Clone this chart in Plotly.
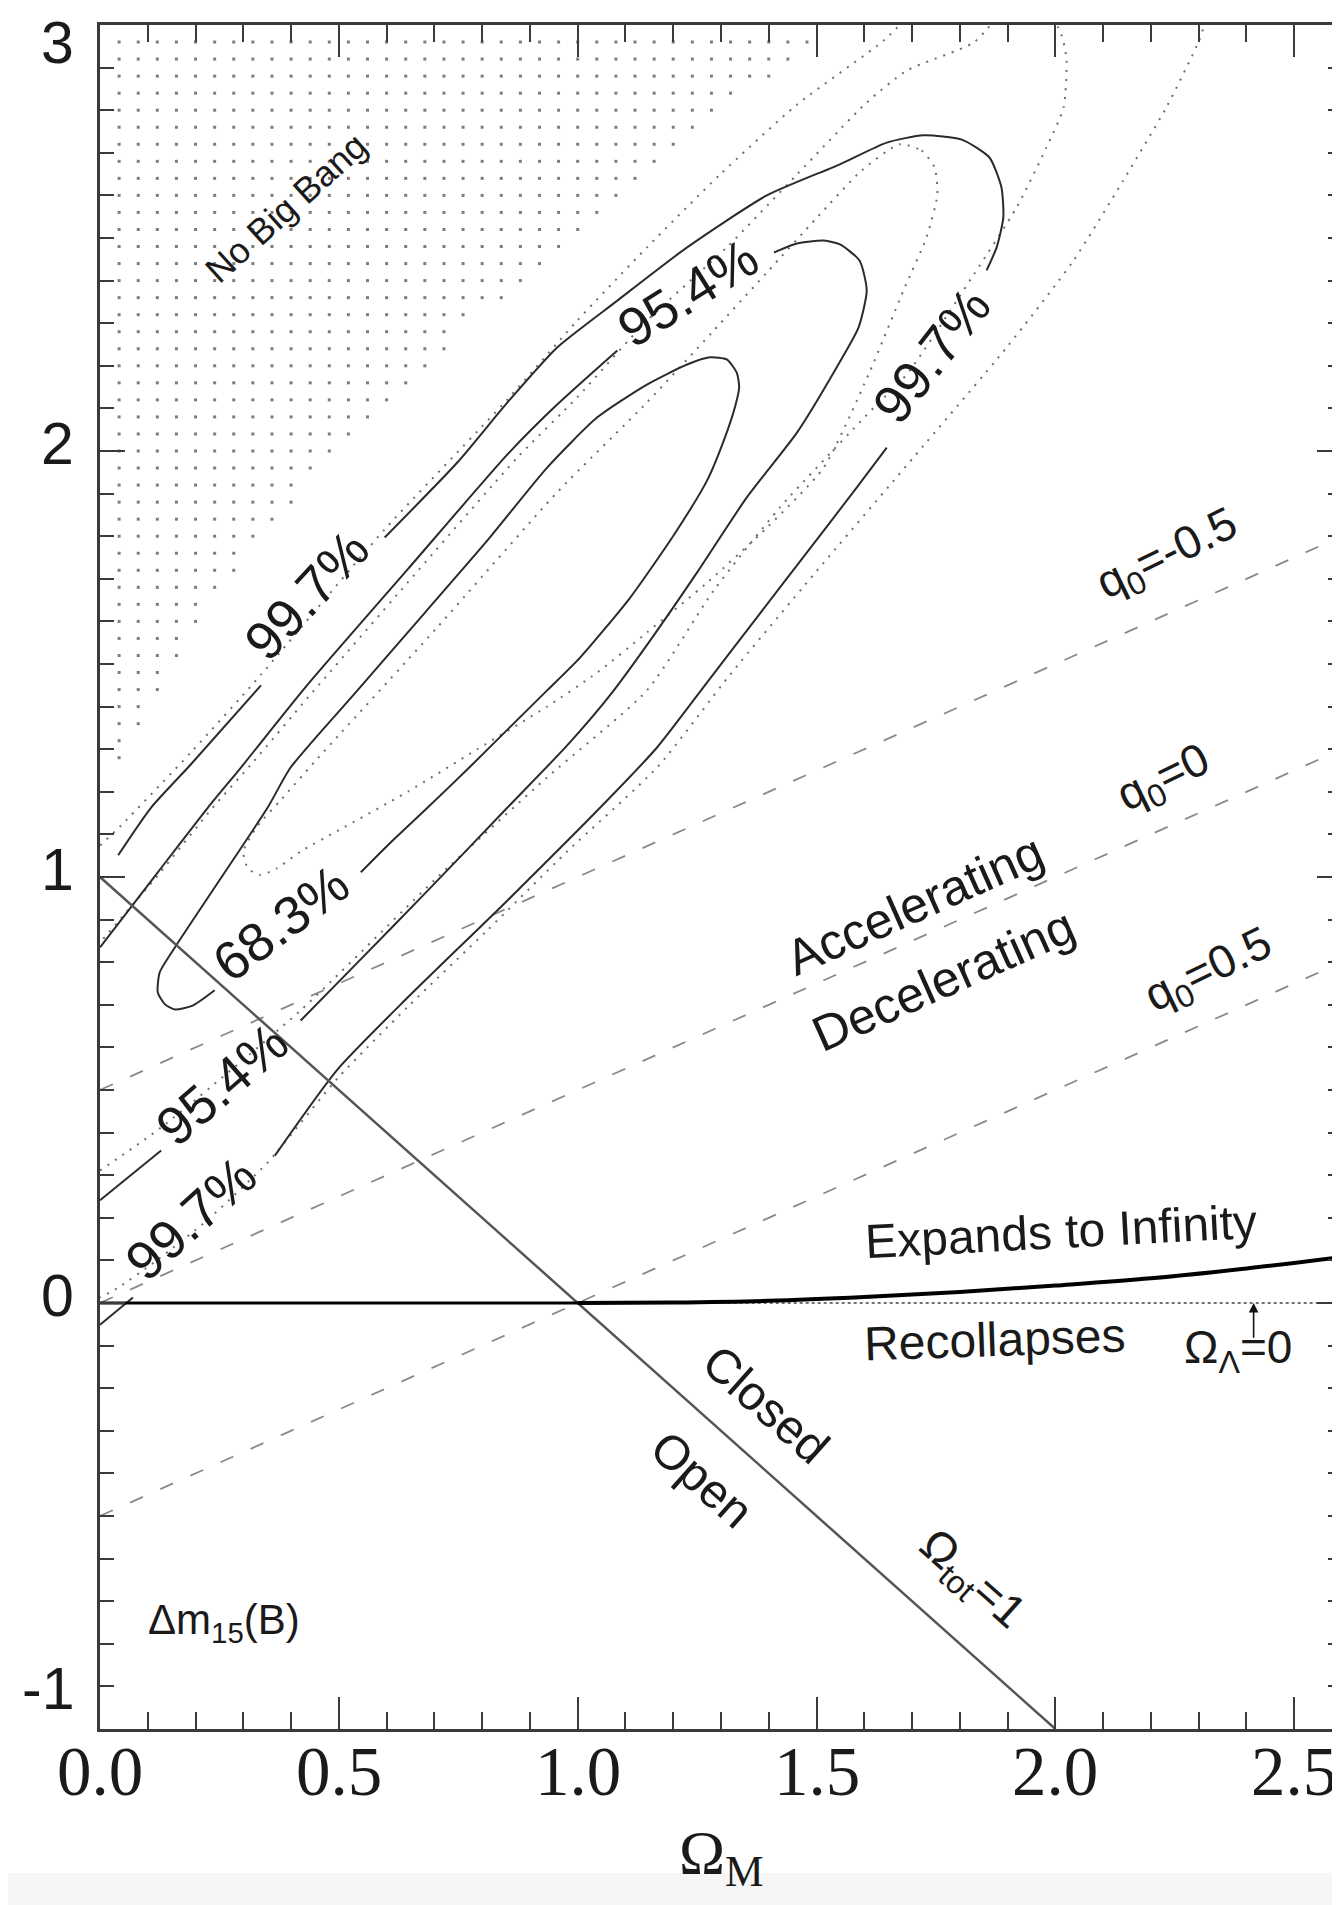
import numpy as np
import plotly.graph_objects as go

# ---------------- axis ticks ----------------
x_tick_vals = [0.0, 0.5, 1.0, 1.5, 2.0, 2.5]
x_tick_text = ["0.0", "0.5", "1.0", "1.5", "2.0", "2.5"]
y_tick_vals = [-1, 0, 1, 2, 3]
y_tick_text = ["-1", "0", "1", "2", "3"]

# ---------------- reference lines ----------------
flat_x = [0.0, 2.0]            # Omega_tot = 1
flat_y = [1.0, -1.0]
q0_x = [0.0, 2.6]
q0_m05_y = [0.5, 1.8]          # q0 = -0.5
q0_0_y = [0.0, 1.3]            # q0 = 0
q0_05_y = [-0.5, 0.8]          # q0 = 0.5
lam0_solid_x = [0.0, 1.0]
lam0_solid_y = [0.0, 0.0]
lam0_dot_x = [1.0, 2.6]
lam0_dot_y = [0.0, 0.0]
expand_x = [1.0, 1.2, 1.4, 1.6, 1.8, 2.0, 2.2, 2.4, 2.6]
expand_y = [0.0, 0.001, 0.005, 0.014, 0.026, 0.041, 0.058, 0.081, 0.108]

# ---------------- "No Big Bang" region boundary ----------------
nbb_x = [0.0, 0.04, 0.08, 0.12, 0.16, 0.20, 0.24, 0.28, 0.32, 0.36, 0.40, 0.44, 0.48,
         0.52, 0.56, 0.60, 0.64, 0.68, 0.72, 0.76, 0.88, 1.00, 1.08, 1.17, 1.29, 1.49, 1.60]
nbb_y = [1.00, 1.25, 1.34, 1.43, 1.51, 1.59, 1.65, 1.71, 1.77, 1.83, 1.87, 1.93, 1.99,
         2.03, 2.07, 2.11, 2.15, 2.19, 2.23, 2.30, 2.39, 2.51, 2.59, 2.67, 2.79, 2.95, 3.05]

# ---------------- solid confidence contours (Delta m15) ----------------
s68_x = [0.240, 0.194, 0.157, 0.136, 0.121, 0.125, 0.157, 0.226, 0.351, 0.399, 0.539, 0.679,
         0.811, 0.936, 1.041, 1.145, 1.229, 1.277, 1.312, 1.333, 1.338, 1.329, 1.306, 1.271,
         1.202, 1.110, 1.005, 0.936, 0.853, 0.773, 0.686, 0.602, 0.546]
s68_y = [0.734, 0.698, 0.689, 0.701, 0.729, 0.776, 0.835, 0.952, 1.163, 1.257, 1.438, 1.619,
         1.790, 1.961, 2.079, 2.156, 2.203, 2.220, 2.215, 2.184, 2.149, 2.102, 2.025, 1.931,
         1.804, 1.656, 1.515, 1.438, 1.346, 1.257, 1.163, 1.074, 1.011]

s95_x = [0.000, 0.128, None, 0.420, 0.539, 0.686, 0.853, 0.978, 1.072, 1.156, 1.250,
         1.354, 1.459, 1.542, 1.588, 1.605, 1.590, 1.549, 1.515, 1.459, 1.411, None,
         1.083, 0.957, 0.853, 0.644, 0.435, 0.295, 0.226, 0.121, 0.000]
s95_y = [0.241, 0.358, None, 0.663, 0.799, 0.968, 1.163, 1.309, 1.433, 1.562, 1.715,
         1.891, 2.043, 2.196, 2.290, 2.377, 2.447, 2.485, 2.494, 2.487, 2.466, None,
         2.236, 2.109, 1.992, 1.722, 1.452, 1.257, 1.163, 1.011, 0.835]

s997_x = [0.038, 0.107, 0.190, 0.337, None, 0.596, 0.748, 0.853, 0.957, 1.083, 1.229, 1.396,
          1.549, 1.647, 1.724, 1.804, 1.862, 1.887, 1.891, 1.877, 1.856, None, 1.647, 1.584,
          1.480, 1.375, 1.271, 1.166, 1.062, 0.853, 0.644, 0.497, 0.366, None, 0.069, 0.000]
s997_y = [1.051, 1.163, 1.264, 1.450, None, 1.797, 1.973, 2.114, 2.243, 2.353, 2.478, 2.600,
          2.673, 2.724, 2.741, 2.731, 2.689, 2.619, 2.548, 2.478, 2.424, None, 2.008, 1.914,
          1.762, 1.609, 1.457, 1.304, 1.180, 0.945, 0.717, 0.548, 0.346, None, 0.013, -0.051]

# ---------------- dotted confidence contours ----------------
d68_x = [1.674, 1.720, 1.747, 1.753, 1.730, 1.682, 1.609, 1.515, 1.396, 1.271, 1.145, 1.041,
         0.936, 0.790, 0.644, 0.500, 0.420, 0.370, 0.335, 0.310, 0.300, 0.330, 0.378, 0.449,
         0.706, 0.957, 1.145, 1.281, 1.396, 1.501, 1.595, 1.674]
d68_y = [2.720, 2.705, 2.666, 2.602, 2.501, 2.377, 2.180, 1.961, 1.820, 1.691, 1.574, 1.480,
         1.400, 1.300, 1.200, 1.110, 1.060, 1.020, 1.005, 1.020, 1.060, 1.120, 1.180, 1.270,
         1.586, 1.903, 2.114, 2.278, 2.419, 2.548, 2.659, 2.720]

d95_x = [0.000, 0.128, 0.420, 0.706, 0.936, 1.145, 1.285, 1.423, 1.620, 1.689, 1.829, 1.919,
         1.981, 2.017, 2.023, 2.006, 1.920, 1.829, 1.689, 1.605, 1.459, 1.312, 1.145, 0.999,
         0.874, 0.644, 0.435, 0.320, 0.236, 0.121, 0.000]
d95_y = [0.311, 0.412, 0.687, 0.999, 1.234, 1.438, 1.673, 1.867, 2.102, 2.180, 2.414, 2.572,
         2.712, 2.806, 2.924, 2.994, 3.060, 2.959, 2.893, 2.818, 2.649, 2.478, 2.306, 2.126,
         1.985, 1.691, 1.421, 1.269, 1.163, 1.004, 0.846]

d997_x = [0.000, 0.044, 0.190, 0.337, 0.596, 0.853, 0.999, 1.145, 1.298, 1.459, 1.641, 1.700,
          None, 2.320, 2.301, 2.232, 2.142, 2.038, 1.898, 1.703, 1.494, 1.319, 1.166, 0.978,
          0.811, 0.644, 0.497, 0.351, 0.226, 0.121, 0.038, 0.000]
d997_y = [1.074, 1.121, 1.292, 1.475, 1.816, 2.121, 2.306, 2.478, 2.649, 2.813, 2.964, 3.030,
          None, 3.030, 2.964, 2.806, 2.635, 2.447, 2.243, 1.985, 1.710, 1.475, 1.257, 1.060,
          0.875, 0.695, 0.527, 0.330, 0.196, 0.102, 0.036, 0.013]

# ---------------- text labels ----------------
contour_labels = [
    ("99.7%", 0.432, 1.662, -47),
    ("95.4%", 1.229, 2.372, -32),
    ("99.7%", 1.741, 2.225, -52),
    ("68.3%", 0.378, 0.893, -37),
    ("95.4%", 0.255, 0.515, -41),
    ("99.7%", 0.190, 0.200, -42),
]

SANS = "Liberation Sans, Arial, sans-serif"
SERIF = "Liberation Serif, Times New Roman, serif"
INK = "#1a1a1a"
AX = "#3a3a3a"

fig = go.Figure()

# halftone dots of the "No Big Bang" region (texture on a 0.04 grid)
gx, gy = [], []
for k in range(1, 40):
    xv = round(0.04 * k, 3)
    yb = np.interp(xv, nbb_x, nbb_y)
    for j in range(0, 60):
        yv = round(2.96 - 0.04 * j, 3)
        if yv >= yb - 1e-9:
            gx.append(xv)
            gy.append(yv)
fig.add_trace(go.Scatter(x=gx, y=gy, mode="markers",
                         marker=dict(symbol="square", size=3, color="#7d7d7d", line=dict(width=0)),
                         hoverinfo="skip"))

# q0 dashed lines
for yy in (q0_m05_y, q0_0_y, q0_05_y):
    fig.add_trace(go.Scatter(x=q0_x, y=yy, mode="lines",
                             line=dict(color="#8a8a8a", width=1.8, dash="14px,19px")))

# dotted contours
for xs, ys in ((d68_x, d68_y), (d95_x, d95_y), (d997_x, d997_y)):
    fig.add_trace(go.Scatter(x=xs, y=ys, mode="lines", connectgaps=False,
                             line=dict(color="#6e6e6e", width=2, dash="2px,7px", shape="spline",
                                       smoothing=0.6)))

# solid contours
for xs, ys in ((s68_x, s68_y), (s95_x, s95_y), (s997_x, s997_y)):
    fig.add_trace(go.Scatter(x=xs, y=ys, mode="lines", connectgaps=False,
                             line=dict(color="#2b2b2b", width=2, shape="spline", smoothing=0.6)))

# Omega_tot = 1
fig.add_trace(go.Scatter(x=flat_x, y=flat_y, mode="lines",
                         line=dict(color="#555555", width=2.5)))
# Omega_Lambda = 0
fig.add_trace(go.Scatter(x=lam0_dot_x, y=lam0_dot_y, mode="lines",
                         line=dict(color="#444444", width=1.5, dash="3px,3px")))
fig.add_trace(go.Scatter(x=lam0_solid_x, y=lam0_solid_y, mode="lines",
                         line=dict(color="#000000", width=3)))
# expands / recollapses boundary
fig.add_trace(go.Scatter(x=expand_x, y=expand_y, mode="lines",
                         line=dict(color="#000000", width=4, shape="spline")))

ann = []
for txt, xx, yy, ang in contour_labels:
    ann.append(dict(x=xx, y=yy, text=txt, textangle=ang, showarrow=False,
                    font=dict(family=SANS, size=54, color=INK)))

def lab(txt, xx, yy, ang=0, size=48, family=SANS):
    ann.append(dict(x=xx, y=yy, text=txt, textangle=ang, showarrow=False,
                    font=dict(family=family, size=size, color=INK)))

lab("No Big Bang", 0.390, 2.571, -42, 36)
lab("Accelerating", 1.705, 0.935, -24, 50)
lab("Decelerating", 1.766, 0.759, -24, 50)
lab("q<sub>0</sub>=-0.5", 2.235, 1.755, -26, 46)
lab("q<sub>0</sub>=0", 2.228, 1.230, -26, 46)
lab("q<sub>0</sub>=0.5", 2.322, 0.778, -26, 46)
lab("Expands to Infinity", 2.011, 0.167, -3, 48)
lab("Recollapses", 1.873, -0.086, -2, 48)
lab("Ω<sub>Λ</sub>=0", 2.382, -0.112, 0, 46)
lab("Closed", 1.394, -0.239, 41.7, 48)
lab("Open", 1.260, -0.415, 41.7, 48)
lab("Ω<sub>tot</sub>=1", 1.824, -0.651, 41.7, 46)
lab("Δm<sub>15</sub>(B)", 0.259, -0.751, 0, 42)

# arrow for Omega_Lambda = 0
ann.append(dict(x=2.415, y=0.0, ax=2.415, ay=-0.085, xref="x", yref="y", axref="x", ayref="y",
                text="", showarrow=True, arrowhead=2, arrowsize=1.2, arrowwidth=1.6,
                arrowcolor="#111111"))

# y tick labels
for v, t in zip(y_tick_vals, y_tick_text):
    if v == 3:
        ya, shift = "top", 17
    elif v == -1:
        ya, shift = "middle", 40
    else:
        ya, shift = "middle", 7
    ann.append(dict(x=0, xref="paper", y=v, yref="y", xanchor="right", yanchor=ya,
                    xshift=-24, yshift=shift, text=t, showarrow=False,
                    font=dict(family=SANS, size=59, color=INK)))

# x tick labels
for v, t in zip(x_tick_vals, x_tick_text):
    ann.append(dict(x=v, xref="x", y=-0.0255, yref="paper", xanchor="center", yanchor="middle",
                    text=t, showarrow=False,
                    font=dict(family=SERIF, size=69, color=INK)))

# x axis title
ann.append(dict(x=1.30, xref="x", y=-0.0985, yref="paper", text="Ω<sub>M</sub>",
                showarrow=False, font=dict(family=SERIF, size=62, color=INK)))

fig.update_layout(
    width=1340, height=1905,
    margin=dict(l=92, r=3, t=17, b=184),
    showlegend=False,
    plot_bgcolor="white", paper_bgcolor="white",
    annotations=ann,
    shapes=[dict(type="rect", xref="paper", yref="paper", x0=-0.1, x1=1.01,
                 y0=-0.108, y1=-0.0845, fillcolor="#f6f6f6", line=dict(width=0), layer="below")],
    xaxis=dict(range=[0, 2.6], showline=True, linecolor=AX, linewidth=3, mirror="ticks",
               ticks="inside", ticklen=32, tickwidth=2, tickcolor=AX,
               tickvals=x_tick_vals, showticklabels=False,
               showgrid=False, zeroline=False,
               minor=dict(dtick=0.1, ticklen=17, tickwidth=2, tickcolor=AX, ticks="inside",
                          showgrid=False)),
    yaxis=dict(range=[-1, 3], showline=True, linecolor=AX, linewidth=3, mirror="ticks",
               ticks="inside", ticklen=25, tickwidth=2, tickcolor=AX,
               tickvals=y_tick_vals, showticklabels=False,
               showgrid=False, zeroline=False,
               minor=dict(dtick=0.1, ticklen=14, tickwidth=2, tickcolor=AX, ticks="inside",
                          showgrid=False)),
)

fig.write_html("out.html")
